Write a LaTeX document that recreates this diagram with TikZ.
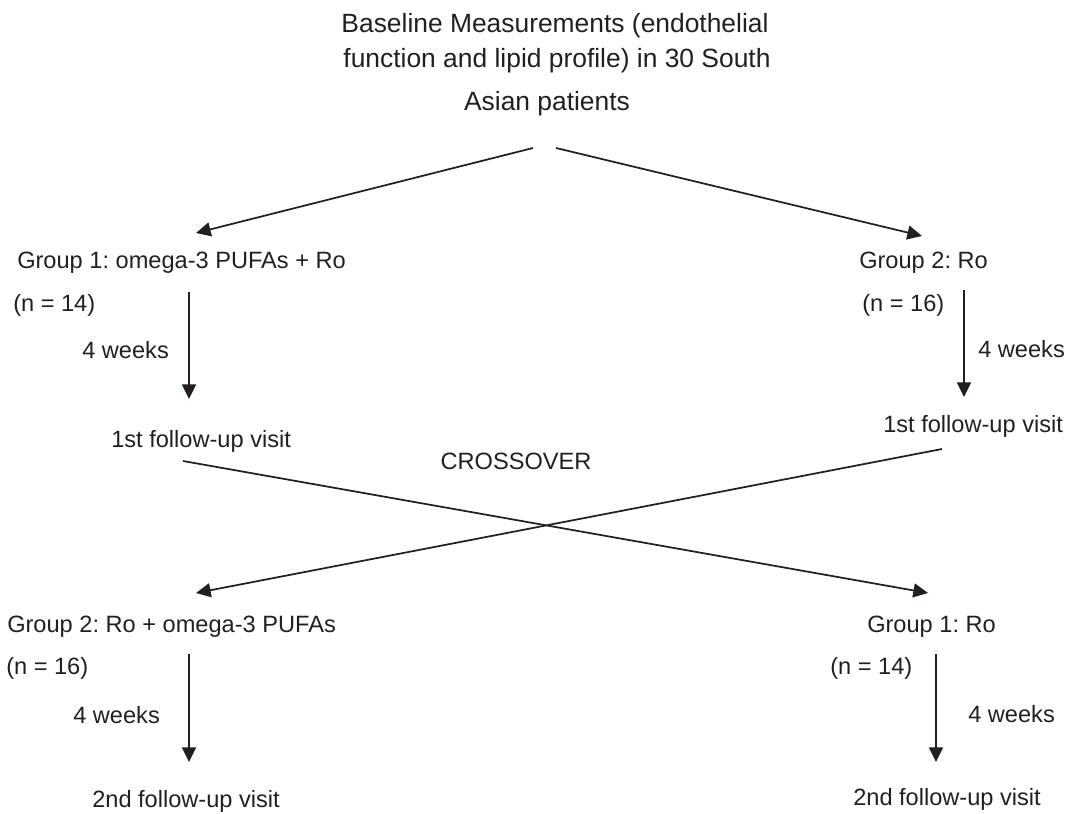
\documentclass[tikz,border=0pt]{standalone}
\usepackage{fontspec}
\setmainfont{Liberation Sans}
\usetikzlibrary{arrows.meta}
\definecolor{ink}{HTML}{231F20}
\frenchspacing
\tikzset{
  lbl/.style={anchor=base west, inner sep=0pt, text=ink, font=\fontsize{17.7}{26.25}\selectfont},
  head/.style={lbl, anchor=base, font=\fontsize{19.8}{26.25}\selectfont},
  arr/.style={draw=ink, line width=1.3pt, -{Triangle[length=11pt,width=10.5pt]}}
}
\begin{document}
\begin{tikzpicture}[x=0.75pt,y=-0.75pt]
\useasboundingbox (0,0) rectangle (1068,814);

%baseline text
\node[head] (baseA) at (555,32) {Baseline Measurements (endothelial};
\node[head] (baseB) at (557,67) {function and lipid profile) in 30 South};
\node[head] (baseC) at (547,110) {Asian patients};

%first period
\node[lbl] (grpA) at (17,268) {Group 1: omega-3 PUFAs + Ro};
\node[lbl] (nA) at (13,311) {(n = 14)};
\node[lbl] (wkA) at (82,358) {4 weeks};
\node[lbl] (visA) at (111,447) {1st follow-up visit};

\node[lbl] (grpB) at (859,268) {Group 2: Ro};
\node[lbl] (nB) at (862,311) {(n = 16)};
\node[lbl] (wkB) at (978,357) {4 weeks};
\node[lbl] (visB) at (883,432) {1st follow-up visit};

\node[lbl, anchor=base] (cross) at (516,469) {CROSSOVER};

%second period
\node[lbl] (grpC) at (7,632) {Group 2: Ro + omega-3 PUFAs};
\node[lbl] (nC) at (6,674) {(n = 16)};
\node[lbl] (wkC) at (73,723) {4 weeks};
\node[lbl] (visC) at (92,807) {2nd follow-up visit};

\node[lbl] (grpD) at (867,632) {Group 1: Ro};
\node[lbl] (nD) at (830,674) {(n = 14)};
\node[lbl] (wkD) at (968,722) {4 weeks};
\node[lbl] (visD) at (853,805) {2nd follow-up visit};

%arrow ends
\coordinate (splitA) at (533,148);
\coordinate (splitB) at (556,148);
\coordinate (inA) at (196,233);
\coordinate (inB) at (922,236);
\coordinate (outA) at (189,292);
\coordinate (endA) at (189,399);
\coordinate (outB) at (964,290);
\coordinate (endB) at (964,397);
\coordinate (swA) at (183,461);
\coordinate (swB) at (942,449);
\coordinate (inD) at (928,593);
\coordinate (inC) at (196,593);
\coordinate (outC) at (189,654);
\coordinate (endC) at (189,762);
\coordinate (outD) at (936,654);
\coordinate (endD) at (936,762);

%draw arrows
\draw[arr] (splitA) -- (inA);
\draw[arr] (splitB) -- (inB);
\draw[arr] (outA) -- (endA);
\draw[arr] (outB) -- (endB);
\draw[arr] (swA) -- (inD);
\draw[arr] (swB) -- (inC);
\draw[arr] (outC) -- (endC);
\draw[arr] (outD) -- (endD);
\end{tikzpicture}
\end{document}
